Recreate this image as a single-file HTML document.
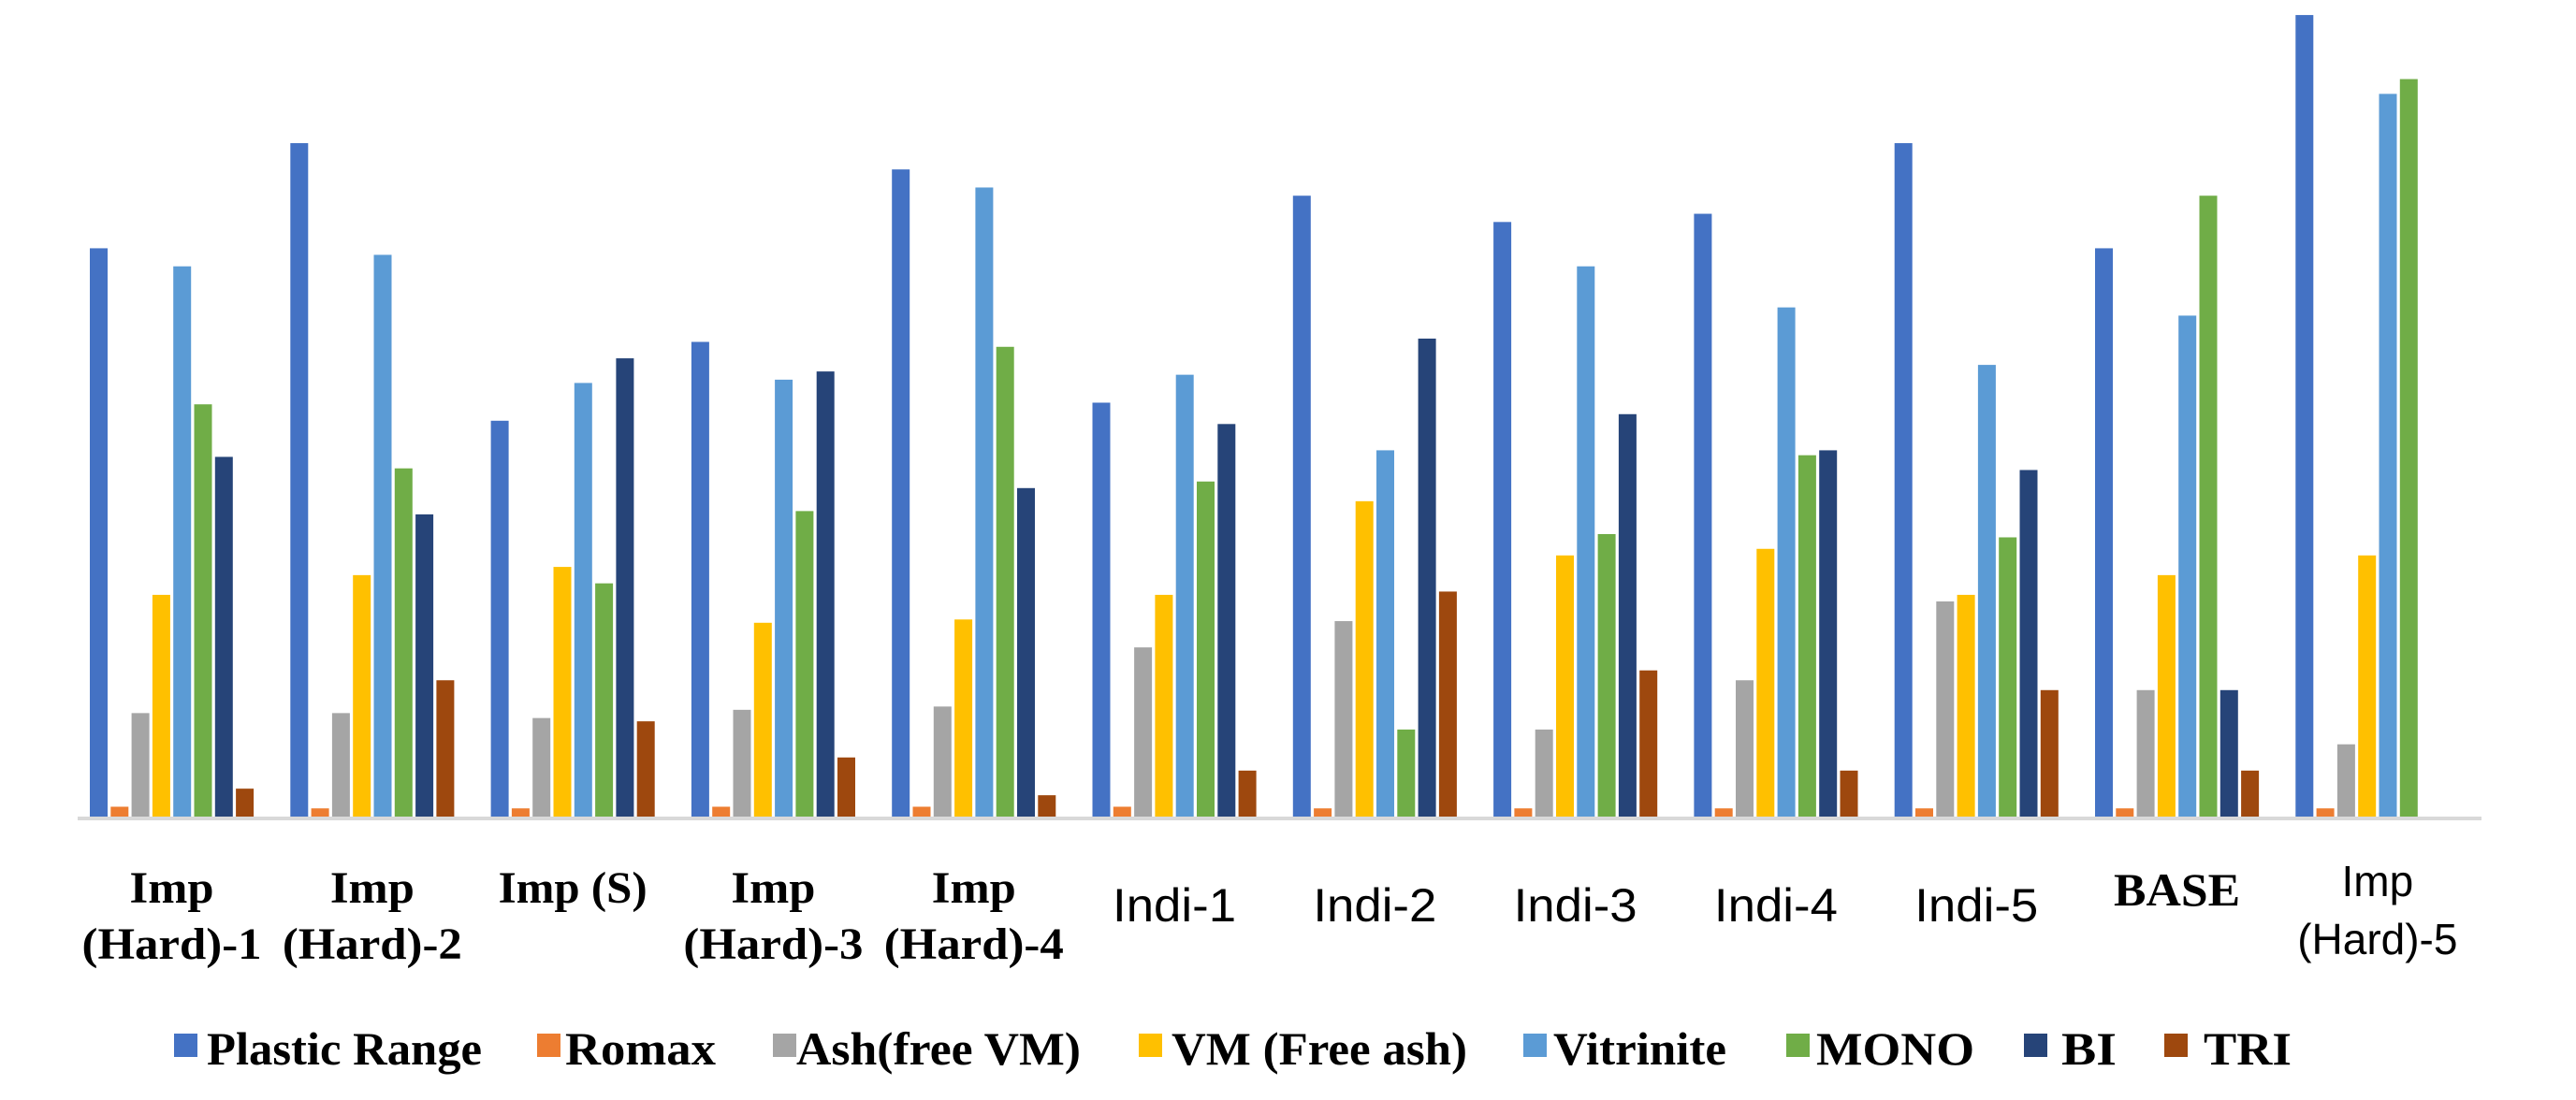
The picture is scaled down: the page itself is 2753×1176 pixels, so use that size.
<!DOCTYPE html>
<html><head><meta charset="utf-8"><style>
html,body{margin:0;padding:0;background:#fff;}
svg{display:block;}
.ser{font-family:"Liberation Serif",serif;font-weight:bold;fill:#000;}
.san{font-family:"Liberation Sans",sans-serif;fill:#000;}
</style></head><body>
<svg id="chart" width="2753" height="1176" viewBox="0 0 2753 1176" xmlns="http://www.w3.org/2000/svg">
<rect width="2753" height="1176" fill="#fff"/>
<g id="bars"></g>
<line x1="83" y1="875" x2="2652" y2="875" stroke="#d9d9d9" stroke-width="4"/>
<g id="labels"></g>
<g id="legend"></g>
</svg>
<script>
const categories = ["Imp (Hard)-1","Imp (Hard)-2","Imp (S)","Imp (Hard)-3","Imp (Hard)-4","Indi-1","Indi-2","Indi-3","Indi-4","Indi-5","BASE","Imp (Hard)-5"];
const seriesNames = ["Plastic Range","Romax","Ash(free VM)","VM (Free ash)","Vitrinite","MONO","BI","TRI"];
const seriesColors = ["#4472c4","#ed7d31","#a5a5a5","#ffc000","#5b9bd5","#70ad47","#264478","#9e480e"];
const plasticRange = [346,410,241,289,394,252,378,362,367,410,346,488];
const romax = [6,5,5,6,6,6,5,5,5,5,5,5];
const ash = [63,63,60,65,67,103,119,53,83,131,77,44];
const vm = [135,147,152,118,120,135,192,159,163,135,147,159];
const vitrinite = [335,342,264,266,383,269,223,335,310,275,305,440];
const mono = [251,212,142,186,286,204,53,172,220,170,378,449];
const bi = [219,184,279,271,200,239,291,245,223,211,77,0];
const tri = [17,83,58,36,13,28,137,89,28,77,28,0];
const seriesValues = [plasticRange,romax,ash,vm,vitrinite,mono,bi,tri];

const NS="http://www.w3.org/2000/svg";
const baseY=873, unit=1.756, x0=96, groupPitch=214.3, barPitch=22.3, barW=19;
function yScale(v){return baseY - v*unit;}
function xBar(g,s){return x0 + g*groupPitch + s*barPitch;}
function groupCenter(g){return x0 + g*groupPitch + (7*barPitch+barW)/2;}

const barsG=document.getElementById('bars');
for(let g=0;g<categories.length;g++){
  for(let s=0;s<seriesValues.length;s++){
    const v=seriesValues[s][g];
    if(v<=0) continue;
    const r=document.createElementNS(NS,'rect');
    r.setAttribute('x',xBar(g,s));
    r.setAttribute('y',yScale(v));
    r.setAttribute('width',barW);
    r.setAttribute('height',baseY-yScale(v));
    r.setAttribute('fill',seriesColors[s]);
    
    
    barsG.appendChild(r);
  }
}

const labelsG=document.getElementById('labels');
function addText(parent,x,y,txt,cls,size,len,name){
  const t=document.createElementNS(NS,'text');
  t.setAttribute('x',x);t.setAttribute('y',y);
  t.setAttribute('class',cls);t.setAttribute('font-size',size);
  t.setAttribute('text-anchor','middle');
  if(len){t.setAttribute('textLength',len);t.setAttribute('lengthAdjust','spacingAndGlyphs');}
  t.textContent=txt;
  
  
  parent.appendChild(t);
  return t;
}
categories.forEach((c,g)=>{
  const cx=groupCenter(g);
  const nm='x-label-'+c.toLowerCase().replace(/[^a-z0-9]+/g,'-');
  if(c.startsWith('Indi')){
    addText(labelsG,cx,985,c,'san',50,132,nm);
  } else if(c==='Imp (Hard)-5'){
    addText(labelsG,cx,958,'Imp','san',46,null,nm+'-line1');
    addText(labelsG,cx,1020,'(Hard)-5','san',46,null,nm+'-line2');
  } else if(c==='Imp (S)'){
    addText(labelsG,cx,965,'Imp (S)','ser',48,159,nm);
  } else if(c==='BASE'){
    addText(labelsG,cx,968,'BASE','ser',50,135,nm);
  } else {
    const num=c.slice(-1);
    addText(labelsG,cx,965,'Imp','ser',48,90,nm+'-line1');
    addText(labelsG,cx,1025,'(Hard)-'+num,'ser',48,192,nm+'-line2');
  }
});

const legendG=document.getElementById('legend');
const legX=[186,574,826,1217,1628,1909,2163,2313];
const legTextStart=[221,604,851,1252,1660,1941,2203,2355];
const legTextEnd=[515,765,1155,1568,1845,2110,2262,2449];
seriesNames.forEach((n,i)=>{
  const r=document.createElementNS(NS,'rect');
  r.setAttribute('x',legX[i]);r.setAttribute('y',1105);
  r.setAttribute('width',25);r.setAttribute('height',25);
  r.setAttribute('fill',seriesColors[i]);
  
  
  legendG.appendChild(r);
  const t=addText(legendG,legTextStart[i],1138,n,'ser',50,legTextEnd[i]-legTextStart[i],'legend-entry-'+(i+1));
  t.setAttribute('text-anchor','start');
});
</script>
</body></html>
